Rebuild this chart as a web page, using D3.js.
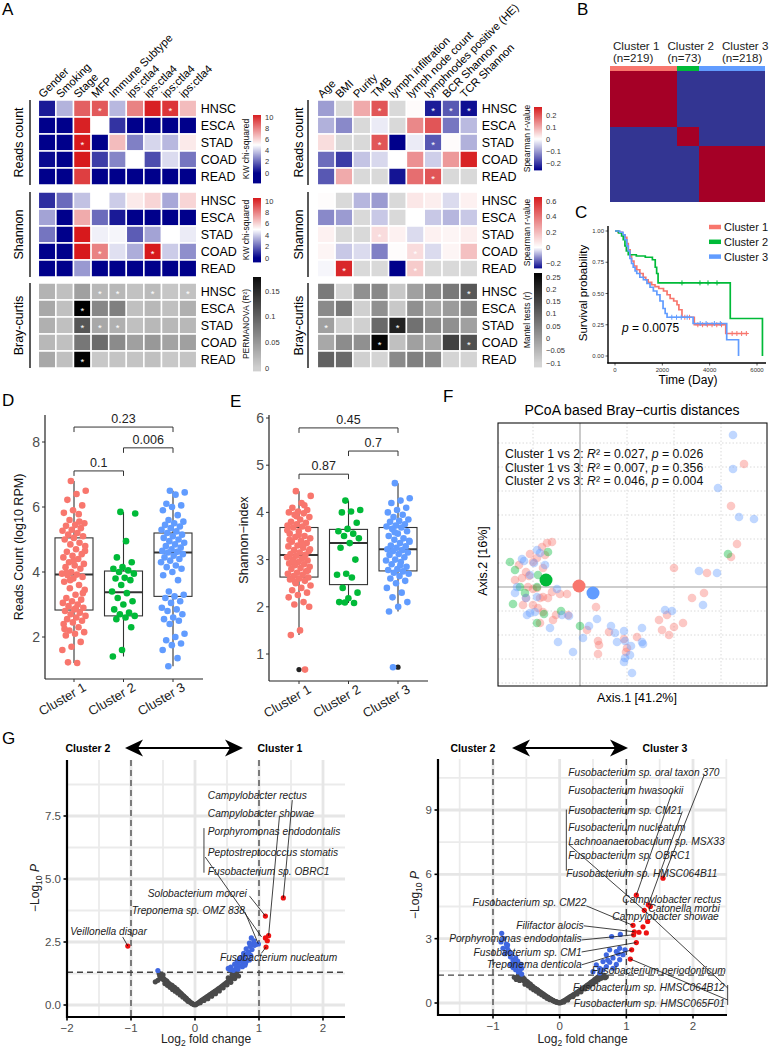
<!DOCTYPE html>
<html><head><meta charset="utf-8">
<script src="https://cdn.jsdelivr.net/npm/d3@7/dist/d3.min.js"></script>
<style>
html,body{margin:0;padding:0;background:#fff}
svg text{font-family:"Liberation Sans",Arial,Helvetica,sans-serif}
</style></head>
<body>
<svg id="fig" width="772" height="1050" xmlns="http://www.w3.org/2000/svg"></svg>
<script>
// ===================== DATA =====================
const hmRows = ["HNSC","ESCA","STAD","COAD","READ"];
const hmGroups = ["Reads count","Shannon","Bray-curtis"];
const colsLeft = ["Gender","Smoking","Stage","MFP","Immune Subtype","ips:ctla4","ips:ctla4","ips:ctla4","ips:ctla4"];
const colsRight = ["Age","BMI","Purity","TMB","lymph infiltration","lymph node count","lymphnodes positive (HE)","BCR Shannon","TCR Shannon"];

const kwReads = [
 [0.5,3.5,8.8,9.0,3.6,8.0,10.3,9.8,6.6],
 [0,0,10.3,5.0,1.0,0,0,0,0],
 [0,0,10.5,0,6.6,2.5,4.2,3.6,5.5],
 [0.2,0,10.5,1.2,2.6,5.0,1.5,4.3,2.3],
 [0,0,9.6,0,0,0,0,0,0]];
const kwReadsStars = [[0,3],[0,7],[2,2]];
const kwShannon = [
 [0.9,2.1,3.8,5.0,4.0,5.5,6.0,3.3,6.0],
 [3.2,0,7.0,2.1,0.5,0,0,0,0],
 [2.3,0,10.5,4.7,4.8,1.8,3.2,5.0,4.6],
 [0,0,10.5,8.0,4.4,3.4,10.5,4.0,2.8],
 [0,0,3.0,0,0,0,0,0,0]];
const kwShannonStars = [[3,3],[3,6]];
const permBray = [
 [0.025,0.014,0.043,0.021,0.021,0.012,0.018,0.008,0.012],
 [0.035,0.014,0.19,0.065,0.072,0.014,0.021,0.014,0.028],
 [0.028,0.014,0.11,0.035,0.028,0.014,0.021,0.021,0.021],
 [0.021,0.014,0.08,0.09,0.062,0.043,0.05,0.04,0.043],
 [0.035,0.014,0.185,0.006,0.01,0.01,0.014,0.006,0.01]];
const permBrayStars = [[0,3],[0,4],[0,6],[0,8],[1,2],[2,2],[2,3],[2,4],[4,2]];

const spReads = [
 [-0.1,null,0.1,0.2,null,0.005,-0.23,-0.17,-0.245],
 [-0.08,-0.12,null,-0.02,null,0.14,0.2,-0.14,-0.07],
 [0.04,null,null,0.2,-0.26,-0.02,-0.17,0.005,-0.08],
 [-0.15,-0.2,-0.06,-0.04,0.0,0.13,-0.05,0.12,0.26],
 [-0.17,0.1,null,null,-0.24,0.17,0.2,null,null]];
const spReadsStars = [[0,3],[0,6],[0,7],[0,8],[2,3],[2,6],[4,6]];
const spShannon = [
 [0.01,null,-0.08,-0.11,null,0.07,0.05,-0.04,0.04],
 [-0.13,-0.11,null,-0.06,null,0.0,-0.06,-0.08,-0.06],
 [0.04,null,null,0.1,0.04,-0.04,0.04,0.03,0.05],
 [0.03,-0.06,-0.04,-0.14,0.01,0.1,-0.04,0.03,0.18],
 [-0.01,0.62,null,null,-0.28,0.15,null,null,null]];
const spShannonStars = [[2,3],[3,5],[4,1],[4,5]];
const mantelBray = [
 [0.056,-0.1,0.018,0.032,-0.079,-0.01,0.025,0.059,0.115],
 [0.028,0.059,-0.093,0.018,-0.079,0.018,-0.024,0.0,0.028],
 [-0.01,-0.093,-0.093,0.084,0.21,0.073,0.028,0.018,-0.01],
 [-0.024,0.025,0.018,0.267,-0.065,-0.01,-0.024,0.156,0.129],
 [0.1,0.084,-0.093,-0.107,0.028,0.046,0.032,-0.107,-0.107]];
const mantelBrayStars = [[0,8],[2,0],[2,4],[3,3],[3,8]];

const clusters = ["Cluster 1","Cluster 2","Cluster 3"];
const clusterN = [219,73,218];
const consensus = [[1,0,0],[0,1,0],[0,0,1]];

// Kaplan-Meier steps [time(day), survival]
const km1 = [[0,1],[130,0.99],[300,0.97],[420,0.95],[500,0.9],[560,0.85],[640,0.8],[700,0.76],[800,0.72],[920,0.69],[1050,0.66],[1190,0.63],[1300,0.61],[1400,0.59],[1550,0.57],[1690,0.555],[1850,0.54],[2050,0.52],[2200,0.49],[2330,0.46],[2480,0.44],[2620,0.41],[2700,0.37],[2830,0.31],[3350,0.25],[4680,0.18],[5600,0.18]];
const km2 = [[0,1],[150,0.985],[280,0.96],[350,0.93],[420,0.88],[480,0.84],[560,0.81],[900,0.8],[1280,0.79],[1580,0.77],[1700,0.71],[1760,0.66],[1820,0.585],[4870,0.3],[6230,0.0]];
const km3 = [[0,1],[200,0.99],[340,0.97],[420,0.93],[500,0.88],[560,0.84],[630,0.78],[700,0.74],[770,0.71],[850,0.68],[920,0.66],[1050,0.63],[1200,0.61],[1350,0.58],[1480,0.55],[1620,0.52],[1770,0.49],[1900,0.44],[2030,0.38],[2120,0.34],[2200,0.31],[3300,0.26],[4720,0.13],[5220,0.0]];
const censor1 = [2950,3150,3500,3700,3900,4100,4300,4500,4950,5150,5350,5550];
const censor2 = [2830,3590,3930,4310];
const censor3 = [2400,2600,2800,3050,3600,3850,4200,4450];
const kmP = "0.0075";

// D: reads count (log10 RPM)
const readsC1 = [6.8,6.5,6.4,6.22,6.05,5.9,5.82,5.78,5.6,5.5,5.45,5.42,5.35,5.3,5.27,5.2,5.15,5.1,5.05,5.0,4.9,4.85,4.8,4.7,4.62,4.55,4.5,4.45,4.4,4.3,4.25,4.2,4.15,4.1,4.0,3.95,3.92,3.9,3.85,3.8,3.7,3.6,3.5,3.45,3.3,3.2,3.15,3.1,3.05,3.0,2.95,2.9,2.85,2.8,2.75,2.7,2.65,2.6,2.55,2.5,2.45,2.4,2.3,2.2,2.15,2.1,2.05,1.85,1.7,1.6,1.2,1.22,3.35,4.35,2.25,5.55,3.75,4.65,2.88,3.98];
const readsC2 = [5.85,5.8,4.95,4.45,4.3,4.15,4.1,4.05,4.0,3.95,3.82,3.8,3.75,3.6,3.4,3.35,3.2,3.1,3.0,2.85,2.75,2.7,2.65,2.6,2.55,2.3,1.6,1.4];
const readsC3 = [6.5,6.45,6.38,6.1,6.05,6.0,5.9,5.75,5.6,5.55,5.5,5.45,5.4,5.35,5.3,5.25,5.2,5.15,5.1,5.05,5.0,4.95,4.9,4.85,4.8,4.75,4.7,4.65,4.62,4.6,4.55,4.5,4.45,4.4,4.35,4.3,4.2,4.15,4.1,4.0,3.9,3.75,3.4,3.3,3.25,3.2,3.1,3.05,2.9,2.85,2.8,2.7,2.6,2.55,2.5,2.4,2.1,2.0,1.9,1.8,1.75,1.6,1.35,1.1];
const boxD_lo = [1.2,1.4,1.1], boxD_q1 = [2.83,2.65,3.25], boxD_med = [3.92,3.38,4.6], boxD_q3 = [5.05,4.03,5.2], boxD_hi = [6.8,5.85,6.5];
const pD_label = ["0.1","0.006","0.23"], pD_pair = [[0,1],[1,2],[0,2]], pD_y = [7.11,7.82,8.46];

// E: Shannon index
const shanC1 = [4.45,4.35,4.2,4.1,4.05,4.02,4.0,3.98,3.95,3.9,3.85,3.8,3.78,3.75,3.72,3.7,3.68,3.65,3.6,3.55,3.5,3.48,3.45,3.4,3.38,3.35,3.3,3.28,3.25,3.2,3.18,3.15,3.12,3.1,3.08,3.05,3.02,3.0,2.98,2.95,2.92,2.9,2.88,2.85,2.82,2.8,2.75,2.72,2.7,2.68,2.65,2.62,2.6,2.58,2.55,2.5,2.45,2.4,2.35,2.3,2.25,2.2,2.1,2.05,2.0,1.5,1.4,0.67,3.92,3.62,3.32,2.97,2.77,3.52,3.42,4.15,2.53,3.22];
const shanC2 = [4.25,4.05,4.02,4.0,3.78,3.65,3.6,3.55,3.5,3.45,3.35,3.25,3.0,2.7,2.68,2.62,2.4,2.3,2.18,2.1,2.08,2.09];
const shanC3 = [4.62,4.3,4.25,4.2,4.1,4.05,4.0,3.95,3.9,3.85,3.82,3.8,3.75,3.72,3.7,3.68,3.65,3.6,3.55,3.5,3.45,3.42,3.4,3.35,3.3,3.28,3.25,3.22,3.2,3.18,3.15,3.12,3.1,3.05,3.0,2.98,2.95,2.9,2.85,2.8,2.78,2.75,2.72,2.7,2.65,2.6,2.55,2.5,2.4,2.3,2.2,2.1,2.0,1.9,0.72,3.58,3.38,2.88];
const boxE_lo = [1.4,2.08,1.9], boxE_q1 = [2.63,2.47,2.76], boxE_med = [3.1,3.35,3.22], boxE_q3 = [3.68,3.64,3.68], boxE_hi = [4.45,4.25,4.62];
const boxE_out = [[0,0.67],[2,0.72]];
const pE_label = ["0.87","0.7","0.45"], pE_pair = [[0,1],[1,2],[0,2]], pE_y = [4.81,5.3,5.79];

// F: PCoA coordinates (Axis.1, Axis.2)
const pcoaC1 = [[1.64,1.23],[1.51,0.81],[1.57,0.43],[1.51,0.3],[0.94,0.19],[1.27,0.14],[1.12,-0.11],[1.24,-0.06],[0.87,-0.28],[0.79,-0.33],[0.89,-0.48],[0.94,-0.4],[1.03,-0.36],[0.82,-0.43],[0.57,-0.5],[0.44,-0.52],[0.29,-0.45],[0.47,-0.61],[0.46,-0.65],[0.18,-0.54],[0.19,-0.58],[0.18,-0.67],[0.07,-0.43],[0.16,-0.2],[-0.27,-0.33],[-0.28,-0.05],[-0.2,-0.07],[-0.13,-0.07],[-0.24,-0.28],[-0.12,-0.28],[-0.4,-0.36],[-0.37,-0.25],[-0.57,-0.18],[-0.47,-0.18],[-0.42,-0.21],[-0.54,-0.11],[-0.52,0.0],[-0.47,-0.02],[-0.43,-0.01],[-0.37,-0.1],[-0.32,-0.11],[-0.4,-0.11],[-0.58,0.09],[-0.51,0.11],[-0.54,0.15],[-0.37,0.19],[-0.43,0.29],[-0.5,0.33],[-0.38,0.4],[-0.33,0.44],[-0.28,0.45],[-0.47,0.25],[-0.65,0.07],[-0.61,0.22],[-0.35,0.32]];
const pcoaC2 = [[1.48,0.33],[-0.7,0.25],[-0.65,0.17],[-0.67,-0.17],[-0.43,-0.36],[-0.36,-0.27],[-0.19,-0.24],[0.0,-0.39],[-0.6,0.0],[-0.43,0.0],[-0.32,0.35],[-0.42,0.12],[-0.55,-0.06]];
const pcoaC3 = [[1.53,1.52],[1.53,1.18],[1.38,0.99],[1.59,0.7],[1.74,0.68],[1.19,0.16],[1.37,0.14],[1.23,-0.18],[0.85,-0.23],[0.92,-0.24],[0.62,-0.41],[0.62,-0.55],[0.63,-0.57],[0.44,-0.44],[0.45,-0.54],[0.31,-0.39],[0.35,-0.46],[0.37,-0.55],[0.5,-0.68],[0.45,-0.71],[0.44,-0.75],[0.51,-0.59],[0.52,-0.86],[-0.07,-0.65],[-0.22,-0.55],[0.03,-0.51],[0.09,-0.39],[0.17,-0.32],[-0.3,-0.41],[-0.23,-0.02],[-0.18,-0.28],[-0.11,-0.29],[-0.53,-0.28],[-0.45,-0.25],[-0.5,-0.26],[-0.65,-0.06],[-0.54,-0.11],[-0.63,0.0],[-0.43,-0.1],[-0.46,0.24],[-0.56,0.26],[-0.58,0.28],[-0.43,0.37],[-0.4,0.34],[-0.35,0.22],[-0.5,0.12]];
const pcoaCentroids = [[-0.01,0.01],[-0.34,0.07],[0.13,-0.06]];
const pcoaStats = [["1 vs 2","0.027","0.026"],["1 vs 3","0.007","0.356"],["2 vs 3","0.046","0.004"]];
const pcoaGridX = [-0.47,0.47,0.94,1.41];
const pcoaGridY = [-0.96,-0.72,-0.48,-0.24,0.24,0.48,0.72,0.96,1.2,1.44];

// G left: cluster 1 vs cluster 2 (log2FC, -log10 P)
const volcL_grey = [[-0.56,1.25],[-0.55,1.15],[-0.54,1.22],[-0.53,1.1],[-0.52,1.05],[-0.5,1.08],[-0.49,1.0],[-0.48,1.02],[-0.46,0.98],[-0.45,0.92],[-0.44,0.95],[-0.42,0.88],[-0.41,0.85],[-0.4,0.82],[-0.38,0.8],[-0.37,0.75],[-0.36,0.78],[-0.34,0.72],[-0.33,0.68],[-0.32,0.7],[-0.3,0.64],[-0.29,0.6],[-0.28,0.62],[-0.26,0.55],[-0.25,0.52],[-0.24,0.5],[-0.22,0.46],[-0.21,0.42],[-0.2,0.4],[-0.18,0.36],[-0.17,0.33],[-0.16,0.3],[-0.14,0.27],[-0.13,0.23],[-0.12,0.2],[-0.1,0.17],[-0.09,0.14],[-0.08,0.12],[-0.06,0.09],[-0.05,0.07],[-0.04,0.05],[-0.02,0.03],[-0.01,0.01],[-0.62,0.92],[-0.58,0.98],[-0.5,1.2],[-0.47,0.85],[-0.43,0.78],[-0.39,0.7],[-0.35,0.62],[-0.31,0.55],[-0.27,0.48],[-0.23,0.4],[-0.19,0.32],[-0.15,0.24],[-0.11,0.15],
 [0.01,0.01],[0.03,0.05],[0.05,0.08],[0.07,0.12],[0.09,0.15],[0.11,0.19],[0.13,0.22],[0.15,0.26],[0.17,0.29],[0.19,0.33],[0.21,0.36],[0.23,0.4],[0.25,0.43],[0.27,0.47],[0.29,0.5],[0.31,0.54],[0.33,0.57],[0.35,0.61],[0.37,0.65],[0.39,0.68],[0.41,0.72],[0.43,0.76],[0.45,0.8],[0.47,0.84],[0.49,0.88],[0.51,0.92],[0.53,0.96],[0.55,1.0],[0.57,1.05],[0.59,1.1],[0.61,1.16],[0.63,1.22],[0.65,1.27],[0.2,0.25],[0.26,0.35],[0.32,0.45],[0.38,0.56],[0.44,0.68],[0.5,0.8],[0.56,0.9],[0.62,1.05],[0.68,1.15],[0.14,0.18],[0.08,0.09],[0.58,1.2],[0.52,1.08]];
const volcL_blue = [[0.88,2.66],[0.85,2.46],[0.9,2.4],[0.93,2.37],[0.86,2.33],[0.8,2.23],[0.89,2.2],[0.84,2.1],[0.76,2.05],[0.79,2.0],[0.87,1.97],[0.74,1.9],[0.77,1.82],[0.82,1.78],[0.71,1.74],[0.85,1.79],[0.66,1.72],[0.75,1.68],[0.79,1.66],[0.62,1.62],[0.69,1.56],[0.74,1.52],[0.56,1.5],[0.65,1.5],[0.52,1.45],[0.55,1.4],[-0.58,1.37],[0.95,2.4],[0.99,2.42],[0.7,1.85],[0.6,1.38],[0.82,2.05],[0.92,2.55],[0.67,1.42],[0.78,1.58]];
const volcL_red = [[1.38,4.25],[1.1,3.53],[1.15,2.75],[1.1,2.66],[1.13,2.55],[1.11,2.3],[-1.05,2.34]];
const volcL_labels = ["Campylobacter rectus","Campylobacter showae","Porphyromonas endodontalis","Peptostreptococcus stomatis","Fusobacterium sp. OBRC1","Solobacterium moorei","Treponema sp. OMZ 838","Veillonella dispar","Fusobacterium nucleatum"];
const volcL_labX = [0.2,0.2,0.2,0.2,0.2,0.81,0.78,-1.95,0.39];
const volcL_labY = [8.33,7.62,6.87,6.07,5.32,4.44,3.77,2.94,1.87];
const volcL_anchor = ["start","start","start","start","start","end","end","start","start"];
const volcL_seg = [[1.52,8.13,1.38,4.25],[1.32,7.5,1.15,2.75],null,[0.16,5.87,1.04,2.7],null,[0.85,4.33,1.1,3.53],[0.78,3.69,0.99,2.42],[-1.13,2.7,-1.05,2.34],[1.04,2.06,1.11,2.3]];
const volcL_bracket = [[0.14,7.02,0.14,5.25]];

// G right: cluster 3 vs cluster 2
const volcR_grey = [[-0.62,1.28],[-0.6,1.22],[-0.59,1.27],[-0.58,1.15],[-0.57,1.2],[-0.56,1.1],[-0.55,1.18],[-0.54,1.05],[-0.53,1.12],[-0.52,1.0],[-0.5,1.02],[-0.49,0.95],[-0.48,0.98],[-0.46,0.9],[-0.45,0.86],[-0.44,0.88],[-0.42,0.8],[-0.41,0.78],[-0.4,0.75],[-0.38,0.7],[-0.37,0.68],[-0.36,0.66],[-0.34,0.62],[-0.33,0.6],[-0.32,0.57],[-0.3,0.53],[-0.29,0.5],[-0.28,0.48],[-0.26,0.44],[-0.25,0.42],[-0.24,0.4],[-0.22,0.35],[-0.21,0.33],[-0.2,0.3],[-0.18,0.27],[-0.17,0.25],[-0.16,0.22],[-0.14,0.19],[-0.13,0.17],[-0.12,0.15],[-0.1,0.12],[-0.09,0.1],[-0.08,0.08],[-0.06,0.06],[-0.05,0.05],[-0.04,0.04],[-0.02,0.02],[-0.01,0.01],[-0.65,1.1],[-0.6,1.05],[-0.52,0.88],[-0.47,0.8],[-0.43,0.7],[-0.39,0.62],[-0.35,0.55],[-0.31,0.46],[-0.27,0.38],[-0.23,0.3],[-0.19,0.22],[-0.15,0.16],[-0.68,1.2],
 [0.01,0.01],[0.03,0.04],[0.05,0.08],[0.07,0.11],[0.09,0.15],[0.11,0.19],[0.13,0.23],[0.15,0.27],[0.17,0.31],[0.19,0.35],[0.21,0.39],[0.23,0.43],[0.25,0.47],[0.27,0.51],[0.29,0.55],[0.31,0.6],[0.33,0.64],[0.35,0.68],[0.37,0.73],[0.39,0.77],[0.41,0.82],[0.43,0.86],[0.45,0.91],[0.47,0.96],[0.49,1.0],[0.51,1.05],[0.53,1.1],[0.55,1.15],[0.57,1.2],[0.59,1.24],[0.61,1.27],[0.63,1.29],[0.66,1.28],[0.7,1.22],[0.2,0.3],[0.26,0.42],[0.32,0.52],[0.38,0.66],[0.44,0.78],[0.5,0.9],[0.54,1.0],[0.58,1.08],[0.62,1.15],[0.68,1.18],[0.12,0.14],[0.06,0.05]];
const volcR_blue = [[-0.87,3.25],[-0.84,3.0],[-0.8,2.75],[-0.79,2.6],[-0.77,2.45],[-0.72,2.3],[-0.74,2.15],[-0.7,2.0],[-0.68,1.85],[-0.64,1.7],[-0.66,1.55],[-0.62,1.45],[-0.57,1.62],[-0.63,1.95],[-0.78,2.7],[-0.75,2.35],[-0.57,1.35],[-0.82,2.3],[-0.88,2.85],[-0.74,1.8],[-0.6,1.5],[-0.7,1.65],[-0.66,2.1],[-0.58,1.8],[-0.85,2.55],
 [0.78,3.1],[0.91,3.2],[0.75,2.48],[0.85,2.4],[0.7,2.25],[0.8,2.1],[0.9,2.02],[0.75,1.9],[0.85,1.8],[0.65,1.93],[0.55,1.78],[0.6,1.62],[0.5,1.46],[0.7,1.7],[0.95,2.25],[0.98,2.48],[0.8,1.62],[0.9,2.55],[0.65,1.55],[0.6,1.4],[0.72,2.0],[0.88,2.3]];
const volcR_red = [[1.55,5.82],[1.15,5.03],[1.33,4.58],[1.36,4.5],[1.27,4.32],[1.32,3.8],[1.1,3.62],[1.25,3.55],[1.12,3.32],[1.19,3.3],[1.3,3.27],[1.11,3.18],[1.15,2.82],[1.08,2.48],[1.06,2.05]];
const volcR_labels = ["Fusobacterium sp. oral taxon 370","Fusobacterium hwasookii","Fusobacterium sp. CM21","Fusobacterium nucleatum","Lachnoanaerobaculum sp. MSX33","Fusobacterium sp. OBRC1","Fusobacterium sp. HMSC064B11","Campylobacter rectus","Catonella morbi","Campylobacter showae","Fusobacterium sp. CM22","Filifactor alocis","Porphyromonas endodontalis","Fusobacterium sp. CM1","Treponema denticola","Fusobacterium periodonticum","Fusobacterium sp. HMSC064B12","Fusobacterium sp. HMSC065F01"];
const volcR_labX = [0.13,0.13,0.13,0.13,0.13,0.13,0.1,0.94,1.33,0.79,0.4,0.36,0.33,0.33,0.33,0.48,0.2,0.21];
const volcR_labY = [10.75,9.9,9.0,8.18,7.52,6.87,6.03,4.81,4.39,4.02,4.67,3.6,3.0,2.38,1.78,1.54,0.75,0.0];
const volcR_anchor = ["start","start","start","start","start","start","start","start","start","start","end","end","end","end","end","start","start","start"];
const volcR_seg = [[2.17,10.65,1.55,5.82],[1.69,9.86,1.15,5.03],[1.84,8.93,1.33,4.58],null,[0.14,7.38,1.27,4.32],null,null,null,null,null,[0.4,4.53,1.1,3.62],[0.36,3.6,1.12,3.32],[0.33,2.94,1.11,3.18],[0.33,2.38,1.15,2.82],[0.33,1.78,1.08,2.48],null,[2.52,0.7,1.27,4.32],[2.52,0.14,1.06,2.05]];
const volcR_bracket = [[0.1,9.02,0.1,6.17],[2.52,0.84,2.52,-0.09]];

// ===================== DRAWING =====================
const svg = d3.select("#fig");
svg.append("rect").attr("width",772).attr("height",1050).attr("fill","#fff");
const CC = ["#F8766D","#00BA38","#619CFF"];

function T(g, x, y, s, o) {
  o = o || {};
  const t = g.append("text").attr("x", x).attr("y", y)
    .attr("font-size", o.size || 12).attr("fill", o.fill || "#000")
    .attr("text-anchor", o.anchor || "start");
  if (s != null) t.text(s);
  if (o.weight) t.attr("font-weight", o.weight);
  if (o.italic) t.attr("font-style", "italic");
  if (o.rotate != null) t.attr("transform", `rotate(${o.rotate},${x},${y})`);
  return t;
}
function L(g, x1, y1, x2, y2, o) {
  o = o || {};
  return g.append("line").attr("x1",x1).attr("y1",y1).attr("x2",x2).attr("y2",y2)
    .attr("stroke", o.stroke || "#000").attr("stroke-width", o.w || 1)
    .attr("stroke-dasharray", o.dash || null).attr("stroke-linecap", o.cap || "butt");
}
const fmtMinus = v => d3.format("")(v);

[["A",2,15],["B",577,15],["C",575,218],["D",2,406],["E",230,407],["F",443,402],["G",2,744]]
  .forEach(([s,x,y]) => T(svg,x,y,s,{size:17}));

// ---------- Panel A ----------
const NA = "#d9d9d9";
const kwColor = d3.scaleLinear().domain([0,5,10.5]).range(["#00008b","#ffffff","#d7191c"]).clamp(true);
const permColor = d3.scaleLinear().domain([0,0.188]).range(["#cfcfcf","#000000"]).clamp(true);
const spReadsColor = d3.scaleLinear().domain([-0.26,0,0.27]).range(["#00008b","#ffffff","#d7191c"]).clamp(true);
const spShanColor = d3.scaleLinear().domain([-0.28,0,0.66]).range(["#00008b","#ffffff","#d7191c"]).clamp(true);
const mantelColor = d3.scaleLinear().domain([-0.1,0.26]).range(["#d4d4d4","#050505"]).clamp(true);
const blockTops = [100,192,283];

function heatmap(cfg) {
  const g = svg.append("g");
  const xs = d3.scaleBand().domain(d3.range(cfg.cols.length)).range([cfg.x0, cfg.x1]);
  cfg.cols.forEach((c,i) => T(g, xs(i) + xs.bandwidth()/2 - 4, 98.5, c, {size:11.2, rotate:-45}));
  cfg.blocks.forEach((b, bi) => {
    const top = blockTops[bi];
    const ys = d3.scaleBand().domain(d3.range(hmRows.length)).range([top, top + 85]);
    b.vals.forEach((row, r) => row.forEach((v, c) => {
      g.append("rect").attr("x", xs(c)).attr("y", ys(r)).attr("width", xs.bandwidth()).attr("height", ys.bandwidth())
        .attr("fill", v == null ? NA : b.color(v)).attr("stroke","#fff").attr("stroke-width",1.5);
    }));
    b.stars.forEach(([r,c]) => T(g, xs(c)+xs.bandwidth()/2, ys(r)+ys.bandwidth()/2+5, "*", {size:9.5, fill:"#fff", anchor:"middle"}));
    hmRows.forEach((n,r) => T(g, cfg.x1 + 4, ys(r)+ys.bandwidth()/2+4.5, n, {size:12.5}));
    L(g, cfg.lineX, top, cfg.lineX, top+85, {w:1.3});
    T(g, cfg.labelX, top+42.5, hmGroups[bi], {size:12.5, anchor:"middle", rotate:-90});
    const lg = b.legend;
    const vs = d3.scaleLinear().domain(lg.tv).range(lg.ty);
    for (let y = lg.top; y < lg.bot; y++)
      g.append("rect").attr("x", cfg.legX).attr("y", y).attr("width", 8).attr("height", 1.4).attr("fill", b.color(vs.invert(y+0.5)));
    lg.ticks.forEach(t => T(g, cfg.legX + 12, vs(t)+2.6, fmtMinus(t), {size:7.5, fill:"#333"}));
    T(g, cfg.legX - 4, (lg.top+lg.bot)/2, lg.title, {size:8.5, anchor:"middle", rotate:-90, fill:"#111"});
  });
}
heatmap({cols: colsLeft, x0: 38.3, x1: 196.7, lineX: 30, labelX: 23, legX: 253, blocks: [
  {vals: kwReads, color: kwColor, stars: kwReadsStars, legend: {top:115, bot:183, tv:[0,10], ty:[173,117], ticks:[0,2,4,6,8,10], title:"KW chi-squared"}},
  {vals: kwShannon, color: kwColor, stars: kwShannonStars, legend: {top:198, bot:262, tv:[0,10], ty:[258,201], ticks:[0,2,4,6,8,10], title:"KW chi-squared"}},
  {vals: permBray, color: permColor, stars: permBrayStars, legend: {top:277, bot:371, tv:[0,0.15], ty:[368,291], ticks:[0,0.05,0.1,0.15], title:"PERMANOVA (R²)"}}
]});
heatmap({cols: colsRight, x0: 317.3, x1: 477.7, lineX: 308, labelX: 303, legX: 534, blocks: [
  {vals: spReads, color: spReadsColor, stars: spReadsStars, legend: {top:107, bot:170, tv:[-0.2,0.2], ty:[163,115], ticks:[-0.2,-0.1,0,0.1,0.2], title:"Spearman r-value"}},
  {vals: spShannon, color: spShanColor, stars: spShannonStars, legend: {top:197, bot:268, tv:[-0.2,0.6], ty:[263,201], ticks:[-0.2,0,0.2,0.4,0.6], title:"Spearman r-value"}},
  {vals: mantelBray, color: mantelColor, stars: mantelBrayStars, legend: {top:273, bot:367, tv:[-0.1,0.25], ty:[363,277], ticks:[-0.1,-0.05,0,0.05,0.1,0.15,0.2,0.25], title:"Mantel tests (r)"}}
]});

// ---------- Panel B ----------
(function(){
  const g = svg.append("g").attr("shape-rendering","crispEdges");
  const total = d3.sum(clusterN);
  const cum = [0, ...d3.cumsum(clusterN)];
  const bx = d3.scaleLinear().domain([0,total]).range([610,765]);
  const by = d3.scaleLinear().domain([0,total]).range([70.5,202]);
  const col = d3.scaleLinear().domain([0,1]).range(["#333592","#a50026"]);
  consensus.forEach((row,i) => row.forEach((v,j) => {
    g.append("rect").attr("x", bx(cum[j])).attr("y", by(cum[i])).attr("width", bx(cum[j+1])-bx(cum[j]))
      .attr("height", by(cum[i+1])-by(cum[i])).attr("fill", col(v));
  }));
  clusters.forEach((c,j) => g.append("rect").attr("x", bx(cum[j])).attr("y", 65.5).attr("width", bx(cum[j+1])-bx(cum[j])).attr("height", 5).attr("fill", CC[j]));
  const hx = d3.scalePoint().domain(clusters).range([613,722]);
  const gt = svg.append("g");
  clusters.forEach((c,j) => { T(gt, hx(c), 50, c, {size:11.6, fill:"#222"}); T(gt, hx(c), 61.5, `(n=${clusterN[j]})`, {size:11.6, fill:"#222"}); });
})();

// ---------- Panel C ----------
(function(){
  const g = svg.append("g");
  const xK = d3.scaleLinear().domain([0,6000]).range([615,757]);
  const yK = d3.scaleLinear().domain([0,1]).range([356,231]);
  [0,0.25,0.5,0.75,1].forEach(t => { L(g,605.5,yK(t),608,yK(t),{w:0.8,stroke:"#333"}); T(g,604,yK(t)+2,d3.format(".2f")(t),{size:6,anchor:"end",fill:"#333"}); });
  [0,2000,4000,6000].forEach(t => { L(g,xK(t),363,xK(t),365.5,{w:0.8,stroke:"#333"}); T(g,xK(t),372,String(t),{size:6,anchor:"middle",fill:"#333"}); });
  const line = d3.line().x(d=>xK(d[0])).y(d=>yK(d[1])).curve(d3.curveStepAfter);
  const kms = [km1,km2,km3], cens = [censor1,censor2,censor3];
  kms.forEach((k,i) => {
    g.append("path").attr("d", line(k)).attr("fill","none").attr("stroke",CC[i]).attr("stroke-width",1.7);
    cens[i].forEach(t => {
      let s = k[0][1]; k.forEach(d => { if (d[0] <= t) s = d[1]; });
      L(g, xK(t), yK(s)-2.5, xK(t), yK(s)+2.5, {stroke:CC[i], w:1});
      L(g, xK(t)-2.5, yK(s), xK(t)+2.5, yK(s), {stroke:CC[i], w:1});
    });
  });
  L(g,608,226,608,363.5,{w:1.4}); L(g,607.3,363,766,363,{w:1.4});
  T(g, 587, 293, "Survival probability", {size:11.5, anchor:"middle", rotate:-90});
  T(g, 688, 384, "Time (Day)", {size:12, anchor:"middle"});
  const pt = T(g, 622, 332, null, {size:12});
  pt.append("tspan").attr("font-style","italic").text("p");
  pt.append("tspan").text(" = " + kmP);
  clusters.forEach((c,i) => {
    const y = 227 + i*14.8;
    L(g, 709, y, 721, y, {stroke:CC[i], w:4.5});
    T(g, 724, y+4, c, {size:11, fill:"#111"});
  });
})();

// ---------- Panels D & E ----------
const jit = i => ((i * 0.6180339887 + 0.37) % 1) * 2 - 1;
function boxPanel(cfg) {
  const g = svg.append("g");
  const {xs, ys} = cfg;
  cfg.yTicks.forEach(t => { L(g, cfg.ax-3, ys(t), cfg.ax, ys(t), {stroke:"#333"}); T(g, cfg.ax-5, ys(t)+5, String(t), {size:14, anchor:"end", fill:"#4d4d4d"}); });
  clusters.forEach((c,i) => {
    const x = xs(c), hw = 19;
    L(g, x, ys(cfg.lo[i]), x, ys(cfg.q1[i]), {stroke:"#333", w:1.1});
    L(g, x, ys(cfg.q3[i]), x, ys(cfg.hi[i]), {stroke:"#333", w:1.1});
    g.append("rect").attr("x", x-hw).attr("y", ys(cfg.q3[i])).attr("width", 2*hw).attr("height", ys(cfg.q1[i])-ys(cfg.q3[i]))
      .attr("fill","#fff").attr("stroke","#333").attr("stroke-width",1.1);
    L(g, x-hw, ys(cfg.med[i]), x+hw, ys(cfg.med[i]), {stroke:"#333", w:2});
  });
  (cfg.out || []).forEach(([ci,v]) => g.append("circle").attr("cx", xs(clusters[ci])).attr("cy", ys(v)).attr("r",2.6).attr("fill","#222"));
  cfg.vals.forEach((vals,i) => vals.forEach((v,k) => {
    const isOut = cfg.out && v < 1;
    g.append("circle").attr("cx", xs(clusters[i]) + (isOut ? (i === 0 ? 6 : -5) : jit(k)*12)).attr("cy", ys(v)).attr("r",3.3).attr("fill",CC[i]);
  }));
  cfg.pLabel.forEach((p,k) => {
    const [a,b] = cfg.pPair[k], y = ys(cfg.pY[k]);
    g.append("path").attr("d", `M${xs(clusters[a])},${y+5}V${y}H${xs(clusters[b])}V${y+5}`).attr("fill","none").attr("stroke","#333").attr("stroke-width",1);
    T(g, (xs(clusters[a])+xs(clusters[b]))/2, y-4, p, {size:12.5, anchor:"middle", fill:"#222"});
  });
  L(g, cfg.ax, cfg.axTop, cfg.ax, cfg.axBot, {stroke:"#222", w:1.2});
  L(g, cfg.ax, cfg.axBot, cfg.axRight, cfg.axBot, {stroke:"#222", w:1.2});
  clusters.forEach(c => { L(g, xs(c), cfg.axBot, xs(c), cfg.axBot+3, {stroke:"#333"}); T(g, xs(c)+13, cfg.axBot+11, c, {size:13, anchor:"end", rotate:-30, fill:"#222"}); });
  T(g, cfg.titleX, cfg.titleY, cfg.title, {size:12.5, anchor:"middle", rotate:-90, fill:"#111"});
}
boxPanel({xs: d3.scalePoint().domain(clusters).range([74,173]), ys: d3.scaleLinear().domain([2,8]).range([637,442]),
  ax:45, axTop:415, axBot:679, axRight:203, yTicks:[2,4,6,8], vals:[readsC1,readsC2,readsC3],
  lo:boxD_lo, q1:boxD_q1, med:boxD_med, q3:boxD_q3, hi:boxD_hi, pLabel:pD_label, pPair:pD_pair, pY:pD_y,
  title:"Reads Count (log10 RPM)", titleX:23, titleY:547});
boxPanel({xs: d3.scalePoint().domain(clusters).range([299,398]), ys: d3.scaleLinear().domain([1,6]).range([654,418]),
  ax:269, axTop:415, axBot:681, axRight:428, yTicks:[1,2,3,4,5,6], vals:[shanC1,shanC2,shanC3], out: boxE_out,
  lo:boxE_lo, q1:boxE_q1, med:boxE_med, q3:boxE_q3, hi:boxE_hi, pLabel:pE_label, pPair:pE_pair, pY:pE_y,
  title:"Shannon−index", titleX:248, titleY:540});

// ---------- Panel F ----------
(function(){
  const g = svg.append("g");
  const xP = d3.scaleLinear().domain([-0.82,1.87]).range([498,767]);
  const yP = d3.scaleLinear().domain([-0.99,1.64]).range([686,423]);
  pcoaGridX.forEach(v => L(g, xP(v), 423, xP(v), 686, {stroke:"#d0d0d0", w:0.8, dash:"1.5,2"}));
  pcoaGridY.forEach(v => L(g, 498, yP(v), 767, yP(v), {stroke:"#d0d0d0", w:0.8, dash:"1.5,2"}));
  L(g, xP(0), 423, xP(0), 686, {stroke:"#bdbdbd", w:1.6});
  L(g, 498, yP(0), 767, yP(0), {stroke:"#bdbdbd", w:1.6});
  [pcoaC1,pcoaC2,pcoaC3].forEach((pts,i) => pts.forEach(p =>
    g.append("circle").attr("cx", xP(p[0])).attr("cy", yP(p[1])).attr("r",4.3).attr("fill",CC[i]).attr("fill-opacity",0.4)));
  pcoaCentroids.forEach((p,i) => g.append("circle").attr("cx", xP(p[0])).attr("cy", yP(p[1])).attr("r",6.5).attr("fill",CC[i]));
  g.append("rect").attr("x",498).attr("y",423).attr("width",269).attr("height",263).attr("fill","none").attr("stroke","#111").attr("stroke-width",1.1);
  T(g, 632, 415, "PCoA based Bray−curtis distances", {size:14, anchor:"middle"});
  pcoaStats.forEach((s,i) => {
    const t = T(g, 505, 458 + i*13.6, null, {size:12.3, fill:"#111"});
    t.append("tspan").text(`Cluster ${s[0]}: `);
    t.append("tspan").attr("font-style","italic").text("R");
    t.append("tspan").text(`² = ${s[1]}, `);
    t.append("tspan").attr("font-style","italic").text("p");
    t.append("tspan").text(` = ${s[2]}`);
  });
  T(g, 637, 702, "Axis.1   [41.2%]", {size:12.5, anchor:"middle"});
  T(g, 487, 561, "Axis.2   [16%]", {size:12.5, anchor:"middle", rotate:-90});
})();

// ---------- Panel G ----------
function volcano(cfg) {
  const g = svg.append("g");
  const {xs, ys, x0, x1, yT, yB} = cfg;
  cfg.xMinor.forEach(v => L(g, xs(v), yT, xs(v), yB, {stroke:"#ebebeb", w:1.8}));
  cfg.yMinor.forEach(v => L(g, x0, ys(v), x1, ys(v), {stroke:"#ebebeb", w:1.8}));
  cfg.xMajor.forEach(v => L(g, xs(v), yT, xs(v), yB, {stroke:"#e6e6e6", w:2.8}));
  cfg.yMajor.forEach(v => L(g, x0, ys(v), x1, ys(v), {stroke:"#e6e6e6", w:2.8}));
  [-1,1].forEach(v => L(g, xs(v), yT, xs(v), yB, {stroke:"#444", w:1.3, dash:"6,4"}));
  L(g, x0, ys(1.3), x1, ys(1.3), {stroke:"#444", w:1.3, dash:"6,4"});
  cfg.grey.forEach(p => g.append("circle").attr("cx",xs(p[0])).attr("cy",ys(p[1])).attr("r",2.6).attr("fill","#4a4a4a"));
  cfg.blue.forEach(p => g.append("circle").attr("cx",xs(p[0])).attr("cy",ys(p[1])).attr("r",2.6).attr("fill","#3f67e0"));
  cfg.red.forEach(p => g.append("circle").attr("cx",xs(p[0])).attr("cy",ys(p[1])).attr("r",2.6).attr("fill","#ee1111"));
  cfg.seg.forEach(s => { if (s) L(g, xs(s[0]), ys(s[1]), xs(s[2]), ys(s[3]), {stroke:"#111", w:0.8}); });
  cfg.bracket.forEach(s => L(g, xs(s[0]), ys(s[1]), xs(s[2]), ys(s[3]), {stroke:"#111", w:0.8}));
  cfg.labels.forEach((lab,i) => T(g, xs(cfg.labX[i]), ys(cfg.labY[i]) + 3.6, lab, {size:10.2, italic:true, anchor:cfg.anchor[i], fill:"#222"}));
  // axes
  L(g, x0, yT, x0, yB+1, {w:2.2});
  L(g, x0-1, yB, x1, yB, {w:2.2});
  cfg.yTicks.forEach(t => { L(g, x0-3.5, ys(t), x0, ys(t), {w:1.6}); T(g, x0-6, ys(t)+4, cfg.yFmt(t), {size:11.5, anchor:"end", fill:"#4d4d4d"}); });
  cfg.xTicks.forEach(t => { L(g, xs(t), yB, xs(t), yB+3.5, {w:1.6}); T(g, xs(t), yB+15, d3.format("d")(t), {size:11.5, anchor:"middle", fill:"#4d4d4d"}); });
  const xt = T(g, (x0+x1)/2 + cfg.xtOff, cfg.xtY, null, {size:12, anchor:"middle", fill:"#222"});
  xt.append("tspan").text("Log");
  xt.append("tspan").attr("font-size",8.5).attr("dy",2.5).text("2");
  xt.append("tspan").attr("dy",-2.5).text(" fold change");
  const yt = T(g, cfg.ytX, cfg.ytY, null, {size:12, anchor:"middle", rotate:-90, fill:"#222"});
  yt.append("tspan").text("−Log");
  yt.append("tspan").attr("font-size",8.5).attr("dy",3).text("10");
  yt.append("tspan").attr("dy",-3).text(" ");
  yt.append("tspan").attr("font-style","italic").text("P");
  // header with double arrow
  const hy = 748;
  T(g, cfg.hL, hy+4, cfg.nameL, {size:10.5, weight:"bold", anchor:"middle"});
  T(g, cfg.hR, hy+4, cfg.nameR, {size:10.5, weight:"bold", anchor:"middle"});
  L(g, cfg.aL+12, hy, cfg.aR-12, hy, {w:2.2});
  g.append("path").attr("d", `M${cfg.aL},${hy}L${cfg.aL+18},${hy-8.5}L${cfg.aL+13},${hy}L${cfg.aL+18},${hy+8.5}Z`).attr("fill","#000");
  g.append("path").attr("d", `M${cfg.aR},${hy}L${cfg.aR-18},${hy-8.5}L${cfg.aR-13},${hy}L${cfg.aR-18},${hy+8.5}Z`).attr("fill","#000");
}
volcano({xs: d3.scaleLinear().domain([-2,2]).range([67,323]), ys: d3.scaleLinear().domain([0,7.5]).range([1005,816]),
  x0:67, x1:345, yT:760, yB:1017, xMajor:[-1,0,1,2], xMinor:[-1.5,-0.5,0.5,1.5], yMajor:[0,2.5,5,7.5], yMinor:[1.25,3.75,6.25,8.75],
  yTicks:[0,2.5,5,7.5], yFmt:d3.format(".1f"), xTicks:[-2,-1,0,1,2],
  grey:volcL_grey, blue:volcL_blue, red:volcL_red, labels:volcL_labels, labX:volcL_labX, labY:volcL_labY, anchor:volcL_anchor,
  seg:volcL_seg, bracket:volcL_bracket, xtOff:0, xtY:1043, ytX:39, ytY:888,
  nameL:"Cluster 2", nameR:"Cluster 1", hL:88, hR:280, aL:125, aR:243});
volcano({xs: d3.scaleLinear().domain([-1,2]).range([493,693]), ys: d3.scaleLinear().domain([0,9]).range([1003,810]),
  x0:438, x1:727, yT:759, yB:1015, xMajor:[-1,0,1,2], xMinor:[-1.5,-0.5,0.5,1.5,2.5], yMajor:[0,3,6,9], yMinor:[1.5,4.5,7.5,10.5],
  yTicks:[0,3,6,9], yFmt:d3.format("d"), xTicks:[-1,0,1,2],
  grey:volcR_grey, blue:volcR_blue, red:volcR_red, labels:volcR_labels, labX:volcR_labX, labY:volcR_labY, anchor:volcR_anchor,
  seg:volcR_seg, bracket:volcR_bracket, xtOff:0, xtY:1043, ytX:419, ytY:895,
  nameL:"Cluster 2", nameR:"Cluster 3", hL:473, hR:665, aL:512, aR:628});
</script>
</body></html>
